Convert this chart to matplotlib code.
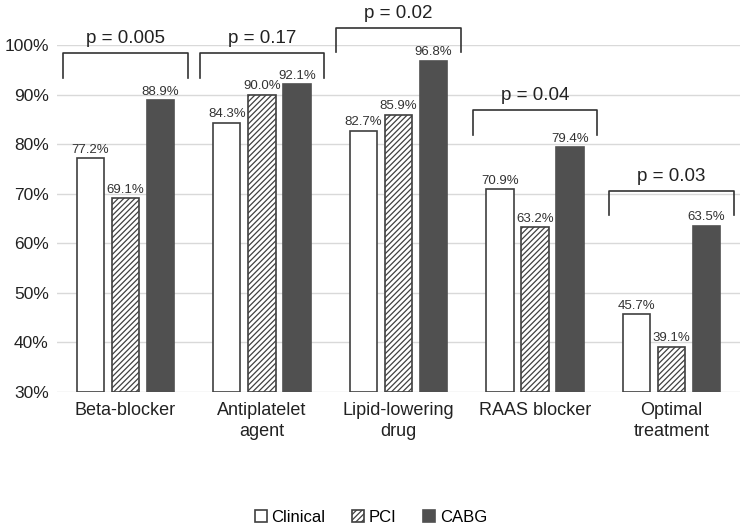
import matplotlib.pyplot as plt
import matplotlib as mpl
import numpy as np

# data
categories = ['Beta-blocker', 'Antiplatelet\nagent', 'Lipid-lowering\ndrug', 'RAAS blocker', 'Optimal\ntreatment']
series = ['Clinical', 'PCI', 'CABG']
clinical = [77.2, 84.3, 82.7, 70.9, 45.7]
pci = [69.1, 90.0, 85.9, 63.2, 39.1]
cabg = [88.9, 92.1, 96.8, 79.4, 63.5]
p_labels = ['p = 0.005', 'p = 0.17', 'p = 0.02', 'p = 0.04', 'p = 0.03']
# bracket top / leg bottom levels (in % units)
bracket_top = [98.4, 98.4, 103.4, 86.9, 70.5]
bracket_leg = [93.3, 93.3, 98.6, 81.8, 65.7]

plt.rcParams['font.family'] = ['Liberation Sans Narrow', 'Liberation Sans', 'DejaVu Sans']
mpl.rcParams['hatch.linewidth'] = 0.9
mpl.rcParams['hatch.color'] = '#555555'

fig = plt.figure(figsize=(7.42, 5.24), dpi=100)
ax = fig.add_axes([0.077, 0.252, 0.92, 0.662])

x = np.arange(len(categories))
w = 0.2
step = 0.257
edge = '#404040'
styles = [dict(color='white', hatch=None), dict(color='white', hatch='//////'), dict(color='#505050', hatch=None)]
for i, (name, vals) in enumerate(zip(series, [clinical, pci, cabg])):
    pos = x + (i - 1) * step
    bars = ax.bar(pos, np.array(vals) - 30, w, bottom=30, facecolor=styles[i]['color'],
                  edgecolor=edge if i != 2 else '#505050', linewidth=1.2, hatch=styles[i]['hatch'],
                  label=name, zorder=3)
    for px, v in zip(pos, vals):
        ax.text(px, v + 0.5, '%.1f%%' % v, ha='center', va='bottom', fontsize=9.5, color='#333333')

# p-value brackets
for xi, top, leg, lab in zip(x, bracket_top, bracket_leg, p_labels):
    ax.plot([xi - 0.455, xi - 0.455, xi + 0.455, xi + 0.455], [leg, top, top, leg],
            color='#333333', lw=1.2, clip_on=False, zorder=4)
    ax.text(xi, top + 1.3, lab, ha='center', va='bottom', fontsize=13.5, color='#222222')

ax.set_xlim(-0.5, 4.5)
ax.set_ylim(30, 100)
ax.set_yticks(np.arange(30, 101, 10))
ax.set_yticklabels(['%d%%' % t for t in range(30, 101, 10)], fontsize=12.5, color='#222222')
ax.set_xticks(x)
ax.set_xticklabels(categories, fontsize=13, color='#222222', linespacing=1.35)
ax.tick_params(length=0, pad=7)
ax.tick_params(axis='y', pad=6)
ax.grid(axis='y', color='#d9d9d9', lw=1, zorder=0)
for s in ax.spines.values():
    s.set_visible(False)

fig.legend(loc='lower center', bbox_to_anchor=(0.5, -0.03), ncol=3, frameon=False,
           fontsize=12, handlelength=0.7, handleheight=0.7, handletextpad=0.3, columnspacing=1.6)

fig.savefig('out.png', dpi=100)
